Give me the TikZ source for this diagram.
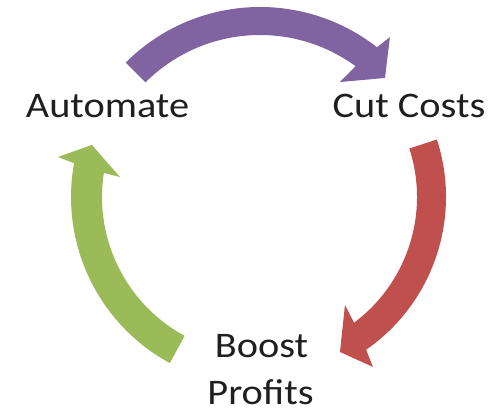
\documentclass[tikz,border=0pt]{standalone}
\usepackage{fontspec}
\setmainfont{Carlito}
\usetikzlibrary{calc}
\definecolor{arrPurple}{HTML}{8064A2}
\definecolor{arrRed}{HTML}{C0504D}
\definecolor{arrGreen}{HTML}{9BBB59}
\begin{document}
\begin{tikzpicture}[x=1pt,y=1pt,
  lbl/.style={font=\fontsize{36}{40}\selectfont, inner sep=0pt, anchor=base, text=black!88}]
\useasboundingbox (0,0) rectangle (500,419);
\coordinate (C) at (260,222);
\begin{scope}[shift={(C)}]
  % purple: Automate -> Cut Costs
  \fill[arrPurple] (135:190) arc[start angle=135,end angle=52,radius=190]
    -- (50.9:206) -- (43.6:172.6) -- (55.2:140) -- (53.8:162)
    arc[start angle=53.8,end angle=135,radius=162] -- cycle;
  % red: Cut Costs -> Boost Profits
  \fill[arrRed] (18:186) arc[start angle=18,end angle=-55.2,radius=186]
    -- (-56.4:204) -- (-62.7:174.4) -- (-51.8:137.4) -- (-53.2:157)
    arc[start angle=-53.2,end angle=18,radius=157] -- cycle;
  % green: Boost Profits -> Automate
  \fill[arrGreen] (241.5:189) arc[start angle=241.5,end angle=169.7,radius=189]
    -- (168.8:206) -- (162.8:176) -- (171.9:141.4) -- (171.2:158)
    arc[start angle=171.2,end angle=241.5,radius=158] -- cycle;
\end{scope}
\node[lbl] (automate) at (107.5,301) {\scalebox{1.12}[1]{Automate}};
\node[lbl] (cutcosts) at (409,301) {\scalebox{1.12}[1]{Cut Costs}};
\node[lbl] (boost) at (261.5,61) {\scalebox{1.12}[1]{Boost}};
\node[lbl] (profits) at (260.5,14) {\scalebox{1.12}[1]{Profits}};
\end{tikzpicture}
\end{document}
